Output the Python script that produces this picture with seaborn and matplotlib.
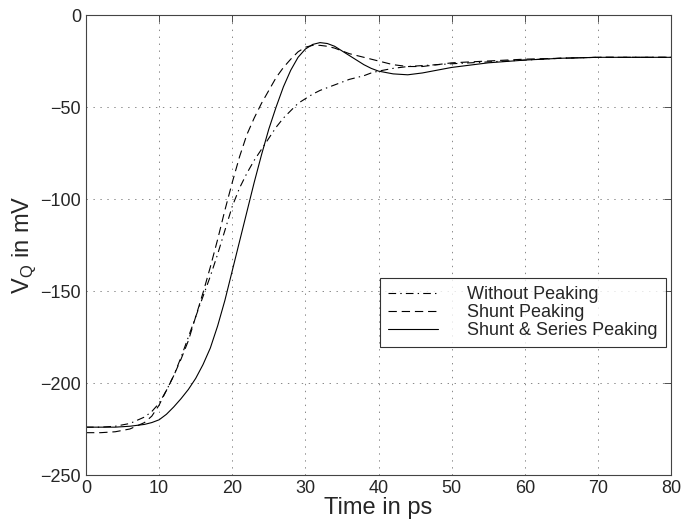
import matplotlib
matplotlib.use("Agg")
import matplotlib.pyplot as plt
import numpy as np
import pandas as pd
import seaborn as sns

# DATA

time_ps = [0, 2, 4, 6, 8, 9, 10, 11, 12, 13, 14, 15, 16, 17, 18, 19, 20, 21, 22, 23, 24,
           25, 26, 27, 28, 29, 30, 31, 32, 33, 34, 35, 36, 37, 38, 39, 40,
           42, 44, 46, 48, 50, 55, 60, 65, 70, 75, 80]

without_peaking = [-224, -224, -223.5, -222, -218.5, -215.5, -211, -204, -196, -186, -175,
                   -164, -153, -142, -130, -117, -104, -94, -86, -79, -73,
                   -67, -61, -56, -52, -48, -45.5, -43, -41, -39.5, -38, -36.5, -35, -34, -33, -31.5, -30.5,
                   -29, -28, -27.5, -27, -26.5, -25.5, -24.5, -23.5, -23, -23, -23]

shunt_peaking = [-227, -227, -226.5, -225, -221.5, -218, -212, -204, -196, -187, -177,
                 -164, -151, -137, -122, -106, -91, -77, -65, -56, -48,
                 -41, -34, -28.5, -24, -20, -17.5, -16.5, -16.5, -17, -18, -19.5, -21, -22, -23, -24, -25,
                 -27, -28, -28, -27, -26, -25, -24, -23.5, -23, -23, -23]

shunt_series_peaking = [-224, -224, -224, -223.5, -222.5, -221.5, -220, -217, -213, -208.5, -203.5,
                        -197.5, -190, -181, -169, -155, -139, -123, -107, -91, -76,
                        -62, -50, -39, -30, -23, -18.5, -16, -15, -15.5, -17, -19.5, -22, -24.5, -27, -29, -30.5,
                        -32, -32.5, -31.5, -30, -28.5, -26, -24.5, -23.5, -23, -23, -23]

series_names = ["Without Peaking", "Shunt Peaking", "Shunt & Series Peaking"]
x_ticks = [0, 10, 20, 30, 40, 50, 60, 70, 80]
y_ticks = [-250, -200, -150, -100, -50, 0]

# STYLE

sns.set_style("white")
plt.rcParams["font.family"] = ["Liberation Sans", "DejaVu Sans"]
plt.rcParams["lines.scale_dashes"] = False
plt.rcParams["mathtext.fontset"] = "custom"
plt.rcParams["mathtext.rm"] = "Liberation Sans"

fig = plt.figure(figsize=(6.91, 5.25), dpi=100)
ax = fig.add_axes([86 / 691, 50 / 525, 585 / 691, 460 / 525])

styles = [(0, (5.5, 3, 1, 3)), (0, (6, 3.5)), "-"]
all_series = [without_peaking, shunt_peaking, shunt_series_peaking]

for name, vals, ls in zip(series_names, all_series, styles):
    sns.lineplot(x=time_ps, y=vals, ax=ax, color="black", linewidth=0.8,
                 linestyle=ls, label=name, legend=False, sort=False)

ax.set_xlim(0, 80)
ax.set_ylim(-250, 0)
ax.set_xticks(x_ticks)
ax.set_yticks(y_ticks)
ax.tick_params(direction="in", length=5, width=0.6, labelsize=13, color="#333333",
               top=True, right=True)
ax.grid(True, linestyle=(0, (1, 4)), color="#888888", linewidth=0.7)
for sp in ax.spines.values():
    sp.set_visible(True)
    sp.set_color("#444444")
    sp.set_linewidth(0.8)

ax.set_xlabel("Time in ps", fontsize=17, labelpad=0)
ax.set_ylabel(r"V$_\mathregular{Q}$ in mV", fontsize=17, labelpad=2)

handles, labels = ax.get_legend_handles_labels()
leg = ax.legend(handles, labels, loc="upper right", bbox_to_anchor=(0.991, 0.428),
                fontsize=13, frameon=True, fancybox=False, edgecolor="black",
                handlelength=2.8, handletextpad=1.6, borderpad=0.45, labelspacing=0.05,
                borderaxespad=0)
leg.get_frame().set_linewidth(0.8)

fig.savefig("out.png", dpi=100)
